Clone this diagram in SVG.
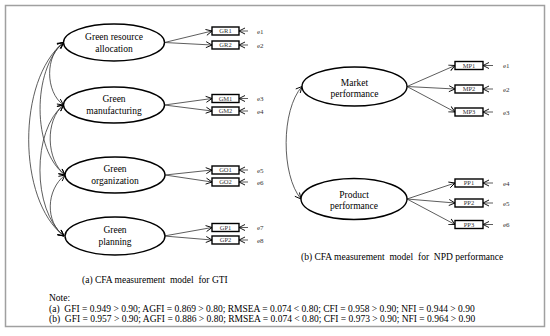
<svg xmlns="http://www.w3.org/2000/svg" width="550" height="336" viewBox="0 0 550 336">
<defs>
<marker id="ah" markerUnits="userSpaceOnUse" markerWidth="8" markerHeight="8" refX="6" refY="3" orient="auto-start-reverse" viewBox="0 0 8 6" overflow="visible">
<path d="M0,0 L6,3 L0,6" fill="none" stroke="#000" stroke-width="0.9"/>
</marker>
<style>
text{font-family:"Liberation Serif","Times New Roman",serif;fill:#000}
.lab{font-size:9.5px;text-anchor:middle}
.box{fill:#fff;stroke:#000;stroke-width:1.4}
.bt{font-size:6.5px;text-anchor:middle;fill:#333}
.el{fill:#fff;stroke:#000;stroke-width:1.4}
.err{font-size:7px;fill:#333}
.ln{fill:none;stroke:#333;stroke-width:0.8}
.cap{font-size:9.5px;white-space:pre}
</style>
</defs>
<rect x="5.5" y="5.5" width="539" height="321" fill="#fff" stroke="#a0a0a0" stroke-width="1.5"/>

<g id="connectors">
<g class="ln" marker-end="url(#ah)">
<path d="M164.5,42.5 L212,31"/>
<path d="M164.5,42.5 L212,45"/>
<path d="M164.5,105 L212,98.5"/>
<path d="M164.5,105 L212,111"/>
<path d="M165,175 L212,170"/>
<path d="M165,175 L212,182"/>
<path d="M164,236 L212,227.5"/>
<path d="M164,236 L212,240"/>
<path d="M248,31 L239,31"/>
<path d="M248,45 L239,45"/>
<path d="M248,98.5 L239,98.5"/>
<path d="M248,111 L239,111"/>
<path d="M248,170 L239,170"/>
<path d="M248,182 L239,182"/>
<path d="M248,227.5 L239,227.5"/>
<path d="M248,240 L239,240"/>
<path d="M407,86.5 L455,65.5"/>
<path d="M407,86.5 L455,89"/>
<path d="M407,86.5 L455,112"/>
<path d="M407,199 L455,183"/>
<path d="M407,199 L455,203"/>
<path d="M407,199 L455,224.5"/>
<path d="M493,65.5 L483,65.5"/>
<path d="M493,89 L483,89"/>
<path d="M493,112 L483,112"/>
<path d="M493,183 L483,183"/>
<path d="M493,203 L483,203"/>
<path d="M493,224.5 L483,224.5"/>
</g>
<g class="ln" marker-start="url(#ah)" marker-end="url(#ah)">
<path d="M63.5,42.5 C45,55 45,92 63.5,105"/>
<path d="M63.5,105 C45,120 46,160 65,175"/>
<path d="M65,175 C46,190 45,222 64,236"/>
<path d="M63.5,42.5 C32,70 32,150 65,175"/>
<path d="M63.5,105 C32,130 32,210 64,236"/>
<path d="M63.5,42.5 C17,80 17,200 64,236"/>
<path d="M302,86.5 C281,110 281,175 301,199"/>
</g>
</g>

<g id="n-gra"><ellipse class="el" cx="114" cy="42.5" rx="50.5" ry="18.5"/><text class="lab" x="114" y="39.5">Green resource</text><text class="lab" x="114" y="51.5">allocation</text></g>
<g id="n-gm"><ellipse class="el" cx="114" cy="105" rx="50.5" ry="18"/><text class="lab" x="114" y="102">Green</text><text class="lab" x="114" y="114">manufacturing</text></g>
<g id="n-go"><ellipse class="el" cx="115" cy="175" rx="50" ry="18"/><text class="lab" x="115" y="172">Green</text><text class="lab" x="115" y="184">organization</text></g>
<g id="n-gp"><ellipse class="el" cx="115" cy="236" rx="50" ry="19"/><text class="lab" x="115" y="233">Green</text><text class="lab" x="115" y="245">planning</text></g>

<g id="n-mp"><ellipse class="el" cx="354.5" cy="86.5" rx="52.5" ry="19.5"/><text class="lab" x="354.5" y="86">Market</text><text class="lab" x="354.5" y="97">performance</text></g>
<g id="n-pp"><ellipse class="el" cx="354" cy="199" rx="53" ry="20.5"/><text class="lab" x="354" y="198">Product</text><text class="lab" x="354" y="209">performance</text></g>

<g id="n-GR1"><rect class="box" x="212" y="27" width="27" height="8"/><text class="bt" x="225.5" y="33.3">GR1</text><text class="err" x="257" y="33.5">e1</text></g>
<g id="n-GR2"><rect class="box" x="212" y="41" width="27" height="8"/><text class="bt" x="225.5" y="47.3">GR2</text><text class="err" x="257" y="47.5">e2</text></g>
<g id="n-GM1"><rect class="box" x="212" y="94.5" width="27" height="8"/><text class="bt" x="225.5" y="100.8">GM1</text><text class="err" x="257" y="101">e3</text></g>
<g id="n-GM2"><rect class="box" x="212" y="107" width="27" height="8"/><text class="bt" x="225.5" y="113.3">GM2</text><text class="err" x="257" y="113.5">e4</text></g>
<g id="n-GO1"><rect class="box" x="212" y="166" width="27" height="8"/><text class="bt" x="225.5" y="172.3">GO1</text><text class="err" x="257" y="172.5">e5</text></g>
<g id="n-GO2"><rect class="box" x="212" y="178" width="27" height="8"/><text class="bt" x="225.5" y="184.3">GO2</text><text class="err" x="257" y="184.5">e6</text></g>
<g id="n-GP1"><rect class="box" x="212" y="223.5" width="27" height="8"/><text class="bt" x="225.5" y="229.8">GP1</text><text class="err" x="257" y="230">e7</text></g>
<g id="n-GP2"><rect class="box" x="212" y="236" width="27" height="8"/><text class="bt" x="225.5" y="242.3">GP2</text><text class="err" x="257" y="242.5">e8</text></g>

<g id="n-MP1"><rect class="box" x="455" y="61.5" width="28" height="8"/><text class="bt" x="469" y="67.8">MP1</text><text class="err" x="503" y="68">e1</text></g>
<g id="n-MP2"><rect class="box" x="455" y="85" width="28" height="8"/><text class="bt" x="469" y="91.3">MP2</text><text class="err" x="503" y="91.5">e2</text></g>
<g id="n-MP3"><rect class="box" x="455" y="108" width="28" height="8"/><text class="bt" x="469" y="114.3">MP3</text><text class="err" x="503" y="114.5">e3</text></g>
<g id="n-PP1"><rect class="box" x="455" y="179" width="28" height="8"/><text class="bt" x="469" y="185.3">PP1</text><text class="err" x="503" y="185.5">e4</text></g>
<g id="n-PP2"><rect class="box" x="455" y="199" width="28" height="8"/><text class="bt" x="469" y="205.3">PP2</text><text class="err" x="503" y="205.5">e5</text></g>
<g id="n-PP3"><rect class="box" x="455" y="220.5" width="28" height="8"/><text class="bt" x="469" y="226.8">PP3</text><text class="err" x="503" y="227">e6</text></g>

<text class="cap" x="82" y="283">(a) CFA measurement  model  for GTI</text>
<text class="cap" x="301" y="260">(b) CFA measurement  model  for  NPD performance</text>
<text class="cap" x="49" y="301">Note:</text>
<text class="cap" x="49" y="311.5">(a)  GFI = 0.949 &gt; 0.90; AGFI = 0.869 &gt; 0.80; RMSEA = 0.074 &lt; 0.80; CFI = 0.958 &gt; 0.90; NFI = 0.944 &gt; 0.90</text>
<text class="cap" x="49" y="321.5">(b)  GFI = 0.957 &gt; 0.90; AGFI = 0.886 &gt; 0.80; RMSEA = 0.074 &lt; 0.80; CFI = 0.973 &gt; 0.90; NFI = 0.964 &gt; 0.90</text>
</svg>
